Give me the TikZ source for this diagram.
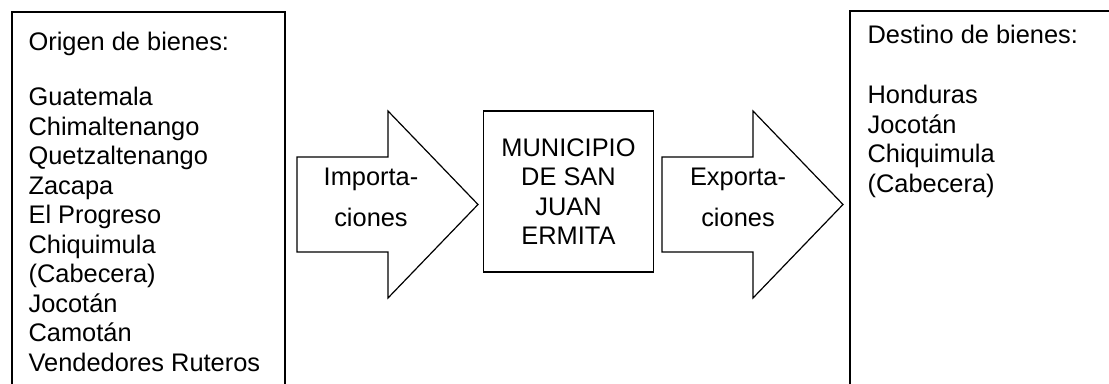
\documentclass[tikz,border=0pt]{standalone}
\usepackage{fontspec}
\setmainfont{Liberation Sans}
\begin{document}
\begin{tikzpicture}[x=0.5pt,y=-0.5pt,line width=0.6pt,
    txt/.style={anchor=base west,inner sep=0pt,font=\fontsize{12.7}{14.75}\selectfont},
    lbl/.style={anchor=base,inner sep=0pt,font=\fontsize{12.7}{14.75}\selectfont}]
  \clip (0,0) rectangle (1109,384);
  % cajas laterales
  \draw (12,12) rectangle (285,400);
  \draw (850,11) rectangle (1120,400);
  \node[txt] (origen) at (28,51) {Origen de bienes:};
  \foreach \t [count=\i from 0] in {Guatemala,Chimaltenango,Quetzaltenango,Zacapa,El Progreso,Chiquimula,(Cabecera),Jocotán,Camotán,Vendedores Ruteros}
    \node[txt] (o\i) at (28,106+29.5*\i) {\t};
  \node[txt] (destino) at (867,44) {Destino de bienes:};
  \foreach \t [count=\i from 0] in {Honduras,Jocotán,Chiquimula,(Cabecera)}
    \node[txt] (d\i) at (867,104+29.5*\i) {\t};
  % flechas
  \foreach \x in {297,662}
    \draw (\x,157) -- (\x+91,157) -- (\x+91,111) -- (\x+181,204.5)
      -- (\x+91,298) -- (\x+91,252) -- (\x,252) -- cycle;
  \node[lbl] (imp) at (371,186) {Importa-};
  \node[lbl] (impb) at (371,227) {ciones};
  \node[lbl] (exp) at (738,186) {Exporta-};
  \node[lbl] (expb) at (738,227) {ciones};
  % municipio
  \node[draw,minimum width=85pt,minimum height=80.5pt,inner sep=0pt,align=center,
    font=\fontsize{12.7}{14.75}\selectfont] (muni) at (568.5,191.5)
    {MUNICIPIO\\DE SAN\\JUAN\\ERMITA};
\end{tikzpicture}
\end{document}
